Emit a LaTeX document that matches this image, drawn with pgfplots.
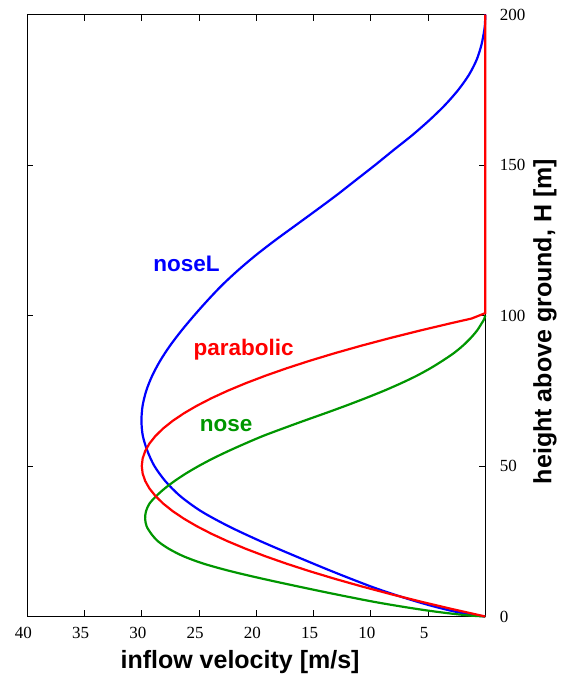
\documentclass[border=0pt]{standalone}
\usepackage{fontspec}
\setmainfont{Liberation Serif}
\newfontfamily\labelfont{Liberation Sans}
\usepackage{pgfplots}
\pgfplotsset{compat=1.18}
\definecolor{gblue}{RGB}{0,0,255}
\definecolor{gred}{RGB}{255,0,0}
\definecolor{ggreen}{RGB}{0,150,0}
\begin{document}
\begin{tikzpicture}
\path[use as bounding box] (-13.65pt,-32.75pt) rectangle (267.35pt,308.25pt);
\begin{axis}[
  at={(0,0)}, anchor=south west,
  scale only axis, width=229pt, height=301pt,
  x dir=reverse,
  xmin=0, xmax=40, ymin=0, ymax=200,
  xtick={5,10,...,40}, ytick={0,50,...,200},
  tick align=inside, major tick length=3pt,
  xtick pos=both, ytick pos=both,
  xticklabel pos=lower, yticklabel pos=right,
  axis line style={line width=0.5pt},
  every tick/.style={black, line width=0.5pt},
  /pgf/number format/assume math mode=true,
  tick label style={font=\fontsize{8.5}{10}\selectfont},
  xticklabel style={yshift=-1.9pt, xshift=-2pt},
  yticklabel style={xshift=3.7pt},
  clip=false,
]
% noseL
\addplot[gblue, line width=1.1pt, smooth, tension=0.5] coordinates {
(0,0) (1.13,0.5) (1.86,1) (3.09,2) (4.55,3.4) (6.03,5) (7.71,7) (10.01,10)
(13.38,15) (16.55,20) (19.62,25) (22.43,30) (24.83,35) (26.64,40) (27.95,45)
(28.90,50) (29.51,55) (29.91,60) (30.03,65) (29.93,70) (29.61,75) (29.09,80)
(28.39,85) (27.53,90) (26.53,95) (25.43,100) (24.26,105) (23.01,110)
(21.6,115) (20.05,120) (18.35,125) (16.55,130) (14.75,135) (12.98,140)
(11.3,145) (9.62,150) (8.0,155) (6.35,160) (4.85,165) (3.5,170) (2.35,175)
(1.42,180) (0.75,185) (0.33,190) (0.08,195) (0.02,197.5) (0,200)
};
% nose
\addplot[ggreen, line width=1.1pt, smooth, tension=0.5] coordinates {
(0,0) (1.11,0.25) (1.84,0.5) (3.05,1) (4.50,1.7) (5.96,2.5) (7.62,3.5)
(9.90,5) (13.23,7.5) (16.37,10) (19.40,12.5) (22.19,15) (24.56,17.5)
(26.35,20) (27.64,22.5) (28.59,25) (29.18,27.5) (29.58,30) (29.71,32.5)
(29.63,35) (29.33,37.5) (28.74,40) (28.01,42.5) (27.14,45) (26.15,47.5)
(25.03,50) (23.79,52.5) (22.42,55) (20.95,57.5) (19.4,60) (17.65,62.5)
(15.85,65) (14.0,67.5) (12.2,70) (10.48,72.5) (8.85,75) (7.35,77.5)
(5.98,80) (4.78,82.5) (3.72,85) (2.75,87.5) (1.95,90) (1.28,92.5)
(0.72,95) (0.3,97.5) (0.1,98.75) (0,100)
};
% parabolic
\addplot[gred, line width=1.1pt] coordinates {
(0,0) (2.925,2.5) (5.7,5) (8.325,7.5) (10.8,10) (13.125,12.5) (15.3,15)
(17.325,17.5) (19.2,20) (20.925,22.5) (22.5,25) (23.925,27.5) (25.2,30)
(26.325,32.5) (27.3,35) (28.125,37.5) (28.8,40) (29.325,42.5) (29.7,45)
(29.925,47.5) (30,50) (29.925,52.5) (29.7,55) (29.325,57.5) (28.8,60)
(28.125,62.5) (27.3,65) (26.325,67.5) (25.2,70) (23.925,72.5) (22.5,75)
(20.925,77.5) (19.2,80) (17.325,82.5) (15.3,85) (13.125,87.5) (10.8,90)
(8.325,92.5) (5.7,95) (2.925,97.5) (1.19,99) (0,100.8) (0,200)
};
\node[text=gblue, font=\labelfont\bfseries\fontsize{11.25}{13}\selectfont] at (axis cs:26.1,117.3) {noseL};
\node[text=gred, font=\labelfont\bfseries\fontsize{11.25}{13}\selectfont] at (axis cs:21.1,88.8) {parabolic};
\node[text=ggreen, font=\labelfont\bfseries\fontsize{11.25}{13}\selectfont] at (axis cs:22.64,63.5) {nose};
\node[font=\labelfont\bfseries\fontsize{12.5}{14}\selectfont] at (axis cs:21.42,-15.1) {inflow velocity [m/s]};
\node[rotate=90, font=\labelfont\bfseries\fontsize{12.5}{14}\selectfont] at (axis cs:-5.21,98) {height above ground, H [m]};
\end{axis}
\end{tikzpicture}
\end{document}
